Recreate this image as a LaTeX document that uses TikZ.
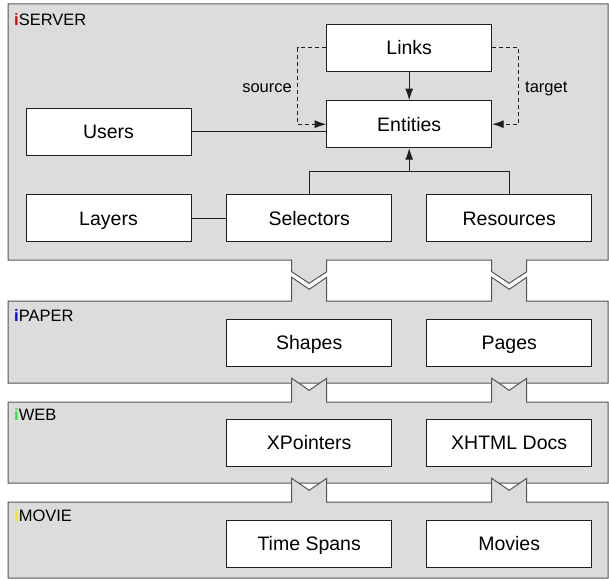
\documentclass[tikz,border=0pt]{standalone}
\usepackage{fontspec}
\setmainfont{Liberation Sans}
\usetikzlibrary{arrows.meta}
\definecolor{panelfill}{RGB}{220,220,220}
\definecolor{panelline}{RGB}{85,85,85}
\definecolor{boxline}{RGB}{30,30,30}
\definecolor{ired}{RGB}{230,0,0}
\definecolor{iblue}{RGB}{0,0,255}
\definecolor{igreen}{RGB}{40,235,40}
\definecolor{iyellow}{RGB}{255,235,0}
\begin{document}
\begin{tikzpicture}[x=1pt,y=-1pt,
  panel/.style={fill=panelfill,draw=panelline,line width=1pt},
  box/.style={draw=boxline,fill=white,line width=1pt,minimum width=165pt,minimum height=47pt,inner sep=0pt,text height=13.96pt,text depth=0pt,font=\fontsize{19.5}{22}\selectfont},
  conn/.style={draw=boxline,line width=1pt},
  tip/.style={-{Latex[length=11.5pt,width=8pt]}},
  lbl/.style={font=\fontsize{16.5}{19}\selectfont,inner sep=0pt,text height=11.8pt,text depth=0pt},
  layerlbl/.style={anchor=west,inner sep=0pt,text height=11.8pt,text depth=0pt,font=\fontsize{16.5}{19}\selectfont}]
\useasboundingbox (0,0) rectangle (609,580);
% panels
\path[panel] (8,4) -- (608,4) -- (608,260) -- (526.7,260) -- (526.7,271.7) -- (509.2,283.3) -- (491.7,271.7) -- (491.7,260) -- (326.7,260) -- (326.7,271.7) -- (309.2,283.3) -- (291.7,271.7) -- (291.7,260) -- (8,260) -- cycle;
\path[panel] (8,301) -- (291.7,301) -- (291.7,277.3) -- (309.2,289.3) -- (326.7,277.3) -- (326.7,301) -- (491.7,301) -- (491.7,277.3) -- (509.2,289.3) -- (526.7,277.3) -- (526.7,301) -- (608,301) -- (608,383) -- (8,383) -- cycle;
\path[panel] (8,402) -- (291.7,402) -- (291.7,378.3) -- (309.2,390.3) -- (326.7,378.3) -- (326.7,402) -- (491.7,402) -- (491.7,378.3) -- (509.2,390.3) -- (526.7,378.3) -- (526.7,402) -- (608,402) -- (608,483) -- (8,483) -- cycle;
\path[panel] (8,502) -- (291.7,502) -- (291.7,478.3) -- (309.2,490.3) -- (326.7,478.3) -- (326.7,502) -- (491.7,502) -- (491.7,478.3) -- (509.2,490.3) -- (526.7,478.3) -- (526.7,502) -- (608,502) -- (608,578) -- (8,578) -- cycle;
% layer labels
\node[layerlbl] (lserver) at (14,20) {\textcolor{ired}{\textbf{i}}SERVER};
\node[layerlbl] (lpaper) at (14,315.5) {\textcolor{iblue}{\textbf{i}}PAPER};
\node[layerlbl] (lweb) at (14,415) {\textcolor{igreen}{\textbf{i}}WEB};
\node[layerlbl] (lmovie) at (14,516) {\textcolor{iyellow}{\textbf{i}}MOVIE};
% boxes
\node[box] (links) at (409.2,48) {Links};
\node[box] (ent) at (409.2,124.2) {Entities};
\node[box] (users) at (108.5,132) {Users};
\node[box] (layers) at (108.5,218.3) {Layers};
\node[box] (sel) at (309.2,218.3) {Selectors};
\node[box] (res) at (509.2,218.3) {Resources};
\node[box] (shapes) at (309.2,342.5) {Shapes};
\node[box] (pages) at (509.2,342.5) {Pages};
\node[box] (xp) at (309.2,442.5) {XPointers};
\node[box] (xhtml) at (509.2,442.5) {XHTML Docs};
\node[box] (ts) at (309.2,543.5) {Time Spans};
\node[box] (movies) at (509.2,543.5) {Movies};
% connectors
\draw[conn,tip] (links) -- (ent);
\draw[conn] (users.east |- 0,132) -- (ent.west |- 0,132);
\draw[conn] (layers) -- (sel);
\coordinate (junc) at (409.2,171.7);
\draw[conn] (sel.north) |- (junc) -| (res.north);
\draw[conn,tip] (junc) -- (ent.south);
\draw[conn,dashed,dash pattern=on 4pt off 3pt,tip] (links.west) -- ++(-28.4,0) |- (ent.west);
\draw[conn,dashed,dash pattern=on 4pt off 3pt,tip] (links.east) -- ++(26.6,0) |- (ent.east);
\node[lbl,anchor=east] (src) at (292,86.5) {source};
\node[lbl,anchor=west] (tgt) at (525,86.5) {target};
\end{tikzpicture}
\end{document}
